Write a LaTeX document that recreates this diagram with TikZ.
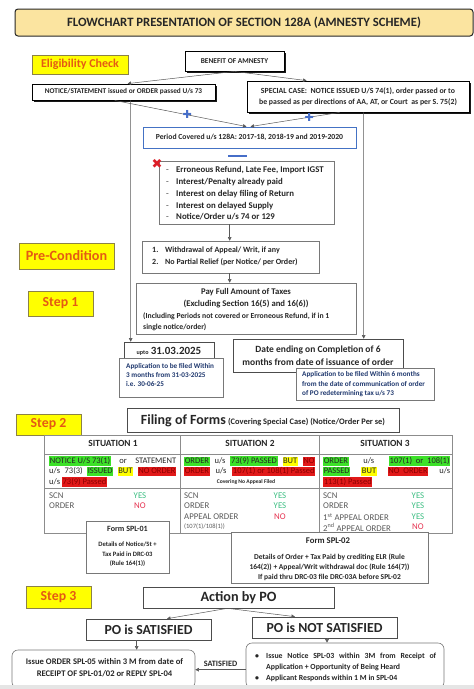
\documentclass[tikz,border=0pt]{standalone}
\usepackage{fontspec}
\setmainfont{Carlito}
\newfontfamily\djv{DejaVu Sans}
\usetikzlibrary{arrows.meta,shadows,calc}
\definecolor{titlefill}{RGB}{251,228,160}
\definecolor{lblyellow}{RGB}{255,255,0}
\definecolor{lbltext}{RGB}{228,90,20}
\definecolor{lblborder}{RGB}{140,130,70}
\definecolor{bluebox}{RGB}{68,114,196}
\definecolor{boxgray}{RGB}{120,120,120}
\definecolor{navytext}{RGB}{31,56,110}
\definecolor{hlgreen}{RGB}{60,225,40}
\definecolor{hlyellow}{RGB}{255,255,0}
\definecolor{hlred}{RGB}{225,25,25}
\definecolor{hlredtext}{RGB}{140,0,0}
\definecolor{yestext}{RGB}{60,190,130}
\definecolor{notext}{RGB}{230,50,80}
\definecolor{plusblue}{RGB}{70,110,200}
\definecolor{xred}{RGB}{220,30,40}
\definecolor{lblgray}{RGB}{90,90,90}
\newcommand{\fsz}[2]{\fontsize{#1}{#2}\selectfont}
\newcommand{\hlg}[1]{{\setlength{\fboxsep}{0.6pt}\colorbox{hlgreen}{\rule[-2pt]{0pt}{7.6pt}#1}}}
\newcommand{\hly}[1]{{\setlength{\fboxsep}{0.6pt}\colorbox{hlyellow}{\rule[-2pt]{0pt}{7.6pt}#1}}}
\newcommand{\hlr}[1]{{\setlength{\fboxsep}{0.6pt}\colorbox{hlred}{\rule[-2pt]{0pt}{7.6pt}\color{hlredtext}#1}}}
\begin{document}
\begin{tikzpicture}[x=1pt,y=-1pt,
  box/.style={draw=boxgray, line width=0.6pt, fill=white, inner sep=0pt, text=black!85},
  lbl/.style={draw=lblborder, fill=lblyellow, line width=0.6pt, text=lbltext, font=\fsz{13.8}{15}\bfseries, inner sep=0pt},
  shbox/.style={draw=black, line width=0.8pt, fill=white, inner sep=0pt, text=black!85,
     drop shadow={shadow xshift=1.6pt, shadow yshift=-1.6pt, fill=black, opacity=0.9}},
  txt/.style={inner sep=0pt, text=black!85},
  arr/.style={draw=black!65, line width=0.5pt, -{Triangle[length=3.5pt,width=3.5pt]}},
  tbl/.style={draw=black!45, line width=0.6pt},
  plusmark/.style={inner sep=0pt, text=plusblue, font=\djv\fsz{11}{11}}
]
\useasboundingbox (0,0) rectangle (474,689);
\fill[white] (0,0) rectangle (474,689);

% title
\node[draw=black!85, line width=1pt, rounded corners=3pt, fill=titlefill, minimum width=458pt, minimum height=27pt, inner sep=0pt, font=\fsz{12.7}{14}\bfseries, text=black!85] (title) at (244,22.5) {FLOWCHART PRESENTATION OF SECTION 128A (AMNESTY SCHEME)};

% labels
\node[lbl, minimum width=96pt, minimum height=19pt, font=\fsz{12}{13}\bfseries] (elig) at (80,64.5) {Eligibility Check};
\node[lbl, minimum width=95pt, minimum height=26pt, font=\fsz{14.2}{15}\bfseries] (precondlbl) at (66.5,256) {Pre-Condition};
\node[lbl, minimum width=65pt, minimum height=25pt] (step1) at (60.5,303.5) {Step 1};
\node[lbl, minimum width=65pt, minimum height=21pt] (step2) at (48.5,424.5) {Step 2};
\node[lbl, minimum width=65pt, minimum height=22pt] (step3) at (58.5,597) {Step 3};

% eligibility
\node[shbox, minimum width=99pt, minimum height=20pt, font=\fsz{7.4}{8}\bfseries] (benefit) at (234.5,61) {BENEFIT OF AMNESTY};
\node[shbox, minimum width=183pt, minimum height=16pt, font=\fsz{7.3}{8}\bfseries] (leftbox) at (123.5,92) {NOTICE/STATEMENT issued or ORDER passed U/s 73};
\node[shbox, minimum width=222pt, minimum height=31pt, align=center, font=\fsz{7.8}{10.5}\bfseries] (rightbox) at (358,96.5) {SPECIAL CASE:\ \ NOTICE ISSUED U/S 74(1), order passed or to\\be passed as per directions of AA, AT, or Court\ \ as per S. 75(2)};

\draw[arr] (benefit.south) -- ($(leftbox.north west)+(96,0)$);
\draw[arr] (benefit.south) -- ($(rightbox.north west)+(60,0)$);

\node[draw=bluebox, line width=0.9pt, fill=white, minimum width=213pt, minimum height=21pt, inner sep=0pt, font=\fsz{7.7}{9}\bfseries, text=black!85] (period) at (249.5,137.5) {Period Covered u/s 128A: 2017-18, 2018-19 and 2019-2020};

\draw[arr] ($(leftbox.south west)+(83,0)$) -- node[pos=0.55, plusmark] (plusl) {✚} ($(period.north)+(-3,0)$);
\draw[arr] ($(rightbox.south west)+(93,0)$) -- node[pos=0.34, plusmark] (plusr) {✚} ($(period.north)+(1,0)$);

% minus and exclusions
\node[fill=plusblue, minimum width=19pt, minimum height=2.5pt, inner sep=0pt] (minus) at (237.5,156) {};
\node[box, minimum width=175pt, minimum height=63pt] (excl) at (246.5,192.5) {};
\node[txt, anchor=west, align=left, font=\fsz{8.8}{11.7}\bfseries] (excltext) at (166,193.5)
 {\makebox[10pt][l]{\color{gray}-}Erroneous Refund, Late Fee, Import IGST\\
  \makebox[10pt][l]{\color{gray}-}Interest/Penalty already paid\\
  \makebox[10pt][l]{\color{gray}-}Interest on delay filing of Return\\
  \makebox[10pt][l]{\color{gray}-}Interest on delayed Supply\\
  \makebox[10pt][l]{\color{gray}-}Notice/Order u/s 74 or 129};
\node[inner sep=0pt, text=xred, font=\djv\fsz{13}{13}] (redx) at (157,164) {✖};

% pre-condition
\node[box, minimum width=177pt, minimum height=32pt] (precond) at (230.5,257) {};
\node[txt, anchor=west, align=left, font=\fsz{8}{12}\bfseries] (precondtext) at (152,256)
 {\makebox[13pt][l]{1.}Withdrawal of Appeal/ Writ, if any\\
  \makebox[13pt][l]{2.}No Partial Relief (per Notice/ per Order)};
\draw[arr] ($(excl.south west)+(71,0)$) -- ($(precond.north west)+(88,0)$);

% pay
\node[box, minimum width=220pt, minimum height=51pt] (pay) at (246,308.5) {};
\node[txt, align=center, font=\fsz{8.7}{12}\bfseries] (paytext) at (246,298) {Pay Full Amount of Taxes\\(Excluding Section 16(5) and 16(6))};
\node[txt, anchor=west, align=left, font=\fsz{7.7}{11}\bfseries] (paynote) at (143,321.5) {(Including Periods not covered or Erroneous Refund, if in 1\\single notice/order)};
\draw[arr] ($(precond.south west)+(88,0)$) -- ($(pay.north west)+(94,0)$);

% deadlines
\node[box, draw=black!70, minimum width=90pt, minimum height=18pt] (upto) at (169,351) {{\fsz{6.1}{7}\bfseries upto} {\fsz{11}{12}\bfseries 31.03.2025}};
\node[box, minimum width=104pt, minimum height=39pt] (app1) at (171,377.5) {};
\node[txt, anchor=west, align=left, text=navytext, font=\fsz{7.2}{9}\bfseries] (app1text) at (126,375) {Application to be filed Within\\3 months from 31-03-2025\\i.e. 30-06-25};

\node[box, draw=black!70, minimum width=170pt, minimum height=33pt, align=center, font=\fsz{9.5}{13}\bfseries] (dateend) at (318,355.5) {Date ending on Completion of 6\\months from date of issuance of order};
\node[box, minimum width=138pt, minimum height=32pt] (app2) at (365,384) {};
\node[txt, anchor=west, align=left, text=navytext, font=\fsz{7.2}{9.5}\bfseries] (app2text) at (302,384.5) {Application to be filed Within 6 months\\from the date of communication of order\\of PO redetermining tax u/s 73};

\draw[arr] ($(leftbox.south west)+(99,0)$) -- ($(upto.north west)+(7,0)$);
\draw[arr] ($(rightbox.south west)+(117,0)$) -- ($(dateend.north west)+(131,0)$);

% filing of forms
\node[box, draw=black!70, minimum width=272pt, minimum height=24pt] (filing) at (263,420.5) {{\fsz{14}{15}\bfseries Filing of Forms} {\fsz{8.4}{9}\bfseries (Covering Special Case) (Notice/Order Per se)}};

% table
\draw[tbl] (44,435) rectangle (452,533);
\draw[tbl] (180,435) -- (180,533);
\draw[tbl] (319,435) -- (319,533);
\draw[tbl] (44,454) -- (452,454);
\draw[tbl] (44,488) -- (452,488);
\node[txt, font=\fsz{9.4}{10}\bfseries] (sit1) at (113,443) {SITUATION 1};
\node[txt, font=\fsz{9.4}{10}\bfseries] (sit2) at (250,443) {SITUATION 2};
\node[txt, font=\fsz{9.4}{10}\bfseries] (sit3) at (385,443) {SITUATION 3};

\begin{scope}[every node/.style={txt, anchor=west, font=\fsz{8.5}{9}}]
\node (c1a) at (49,461) {\makebox[127pt][s]{\hlg{NOTICE U/S 73(1)} or STATEMENT}};
\node (c1b) at (49,471.5) {\makebox[127pt][s]{u/s 73(3) \hlg{ISSUED} \hly{BUT} \hlr{NO ORDER}}};
\node (c1c) at (49,482) {u/s \hlr{73(9) Passed}};
\node (c2a) at (184,461) {\makebox[131pt][s]{\hlg{ORDER} u/s \hlg{73(9) PASSED} \hly{BUT} \hlr{NO}}};
\node (c2b) at (184,471.5) {\makebox[131pt][s]{\hlr{ORDER} u/s \hlr{107(1) or 108(1) Passed}}};
\node (c3a) at (323,461) {\makebox[127pt][s]{\hlg{ORDER} u/s \hlg{107(1)\ \ or\ \ 108(1)}}};
\node (c3b) at (323,471.5) {\makebox[127pt][s]{\hlg{PASSED} \hly{BUT} \hlr{NO\ \ ORDER} u/s}};
\node (c3c) at (323,482) {\hlr{113(1) Passed}};
\end{scope}
\node[txt, font=\fsz{5.6}{6}\bfseries] (noappeal) at (246,482.5) {Covering No Appeal Filed};

\begin{scope}[every node/.style={txt, anchor=west, text=lblgray, font=\fsz{8.8}{9}}]
\node (l1a) at (49,496) {SCN};
\node (l1b) at (49,506) {ORDER};
\node (l2a) at (184,496) {SCN};
\node (l2b) at (184,506) {ORDER};
\node (l2c) at (184,517) {APPEAL ORDER};
\node[font=\fsz{6.5}{7}] (l2d) at (184,527) {(107(1)/108(1))};
\node (l3a) at (323,496) {SCN};
\node (l3b) at (323,506) {ORDER};
\node (l3c) at (323,517) {1\textsuperscript{st} APPEAL ORDER};
\node (l3d) at (323,527) {2\textsuperscript{nd} APPEAL ORDER};
\end{scope}
\begin{scope}[every node/.style={txt, font=\fsz{8.8}{9}}]
\node[text=yestext] (v1a) at (140,496) {YES};
\node[text=notext] (v1b) at (140,506) {NO};
\node[text=yestext] (v2a) at (280,496) {YES};
\node[text=yestext] (v2b) at (280,506) {YES};
\node[text=notext] (v2c) at (280,517) {NO};
\node[text=yestext] (v3a) at (418,496) {YES};
\node[text=yestext] (v3b) at (418,506) {YES};
\node[text=yestext] (v3c) at (418,517) {YES};
\node[text=notext] (v3d) at (418,527) {NO};
\end{scope}

% forms
\node[box, minimum width=83pt, minimum height=52pt] (spl1) at (127.5,547) {};
\node[txt, font=\fsz{8}{9}\bfseries] (spl1title) at (127.5,528.5) {Form SPL-01};
\node[txt, align=center, font=\fsz{6.6}{9.5}\bfseries] (spl1text) at (127.5,554.5) {Details of Notice/St +\\Tax Paid in DRC-03\\(Rule 164(1))};
\node[box, minimum width=197pt, minimum height=51pt] (spl2) at (329.5,557.5) {};
\node[txt, font=\fsz{8.7}{9}\bfseries] (spl2title) at (328,541) {Form SPL-02};
\node[txt, align=center, font=\fsz{7.5}{10}\bfseries] (spl2text) at (329.5,567) {Details of Order + Tax Paid by crediting ELR (Rule\\164(2)) + Appeal/Writ withdrawal doc (Rule 164(7))\\If paid thru DRC-03 file DRC-03A before SPL-02};

% step 3
\node[box, draw=black!70, minimum width=191pt, minimum height=21pt, font=\fsz{14.2}{15}\bfseries] (action) at (238.5,597.5) {Action by PO};
\node[box, draw=black!70, minimum width=125pt, minimum height=21pt, font=\fsz{13.8}{15}\bfseries] (sat) at (148.5,629.5) {PO is SATISFIED};
\node[box, draw=black!70, minimum width=145pt, minimum height=21pt, font=\fsz{13.8}{15}\bfseries] (notsat) at (324.5,627.5) {PO is NOT SATISFIED};
\draw[arr] ($(action.south)+(-11,0)$) -- ($(sat.north)+(18.5,0)$);
\draw[arr] ($(action.south)+(-11,0)$) -- ($(notsat.north)+(-29.5,0)$);

\node[box, rounded corners=6pt, minimum width=183pt, minimum height=38pt] (botleft) at (103.5,669) {};
\node[txt, align=center, font=\fsz{8.6}{12}\bfseries] (botlefttext) at (104.5,668) {Issue ORDER SPL-05 within 3 M from date of\\RECEIPT OF SPL-01/02 or REPLY SPL-04};
\node[box, rounded corners=6pt, minimum width=198pt, minimum height=45pt] (botright) at (345,665.5) {};
\node[txt, anchor=west, align=left, font=\fsz{7.8}{11}\bfseries] (botrighttext) at (255,667)
 {\makebox[11pt][l]{•}\makebox[170pt][s]{Issue Notice SPL-03 within 3M from Receipt of}\\
  \hspace*{11pt}Application + Opportunity of Being Heard\\
  \makebox[11pt][l]{•}Applicant Responds within 1 M in SPL-04};
\draw[arr] ($(sat.south west)+(51,0)$) -- (botleft.north -| {$(sat.south west)+(51,0)$});
\draw[arr] ($(notsat.south)+(2.5,0)$) -- (botright.north -| {$(notsat.south)+(2.5,0)$});
\draw[arr] ($(botright.north west)+(0,27)$) -- node[midway, above=3pt, txt, font=\fsz{8.2}{9}\bfseries] (satlabel) {SATISFIED} ($(botleft.north east)+(0,20)$);

\fill[black!10] (0,685) rectangle (474,689);
\end{tikzpicture}
\end{document}
